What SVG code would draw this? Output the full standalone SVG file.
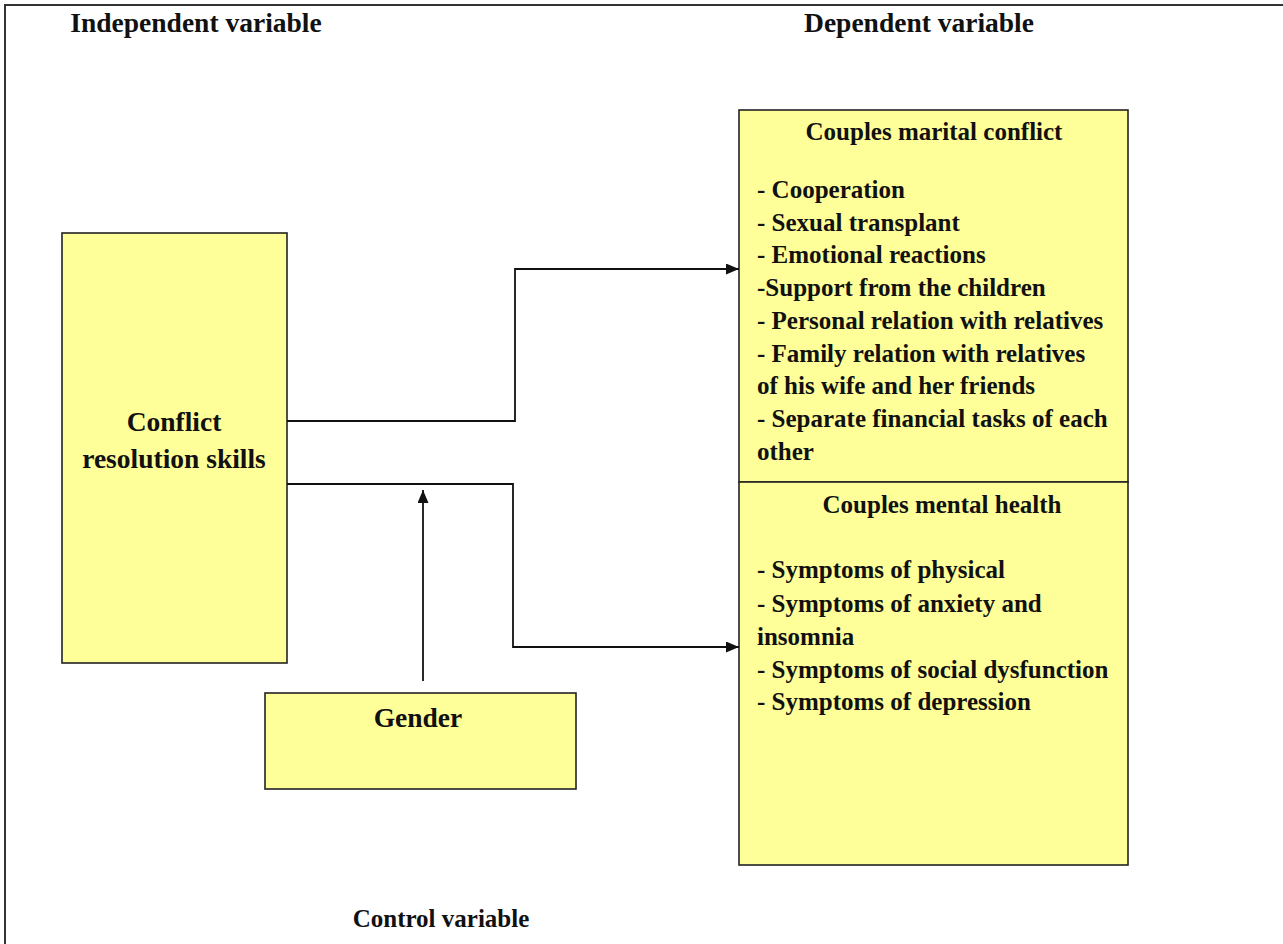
<svg xmlns="http://www.w3.org/2000/svg" width="1283" height="944" viewBox="0 0 1283 944">
<defs>
<style>
.t{font-family:"Liberation Serif","Times New Roman",serif;font-weight:bold;font-size:25px;fill:#111}
.h{font-size:27.5px}
.c{text-anchor:middle}
.box{fill:#ffff99;stroke:#222;stroke-width:1.6}
.ln{fill:none;stroke:#111;stroke-width:1.8}
</style>
<marker id="ah" viewBox="0 0 13 11" refX="13" refY="5.5" markerWidth="13" markerHeight="11" markerUnits="userSpaceOnUse" orient="auto">
<path d="M0,0 L13,5.5 L0,11 z" fill="#111"/>
</marker>
</defs>
<rect width="1283" height="944" fill="#fff"/>
<path d="M5,944 V5 H1283" fill="none" stroke="#333" stroke-width="2"/>
<text class="t h c" x="196" y="32">Independent variable</text>
<text class="t h c" x="919" y="32">Dependent variable</text>
<text class="t c" x="441" y="927">Control variable</text>
<g id="crs">
<rect class="box" x="62" y="233" width="225" height="430"/>
<text class="t h c" x="174" y="431">Conflict</text>
<text class="t h c" x="174" y="468">resolution skills</text>
</g>
<g id="conflict">
<rect class="box" x="739" y="110" width="389" height="372"/>
<text class="t c" x="934" y="140">Couples marital conflict</text>
<text class="t" x="757" y="198">- Cooperation</text>
<text class="t" x="757" y="231">- Sexual transplant</text>
<text class="t" x="757" y="263">- Emotional reactions</text>
<text class="t" x="757" y="296">-Support from the children</text>
<text class="t" x="757" y="329">- Personal relation with relatives</text>
<text class="t" x="757" y="362">- Family relation with relatives</text>
<text class="t" x="757" y="394">of his wife and her friends</text>
<text class="t" x="757" y="427">- Separate financial tasks of each</text>
<text class="t" x="757" y="460">other</text>
</g>
<g id="health">
<rect class="box" x="739" y="482" width="389" height="383"/>
<text class="t c" x="942" y="513">Couples mental health</text>
<text class="t" x="757" y="578">- Symptoms of physical</text>
<text class="t" x="757" y="612">- Symptoms of anxiety and</text>
<text class="t" x="757" y="645">insomnia</text>
<text class="t" x="757" y="678">- Symptoms of social dysfunction</text>
<text class="t" x="757" y="710">- Symptoms of depression</text>
</g>
<g id="gender">
<rect class="box" x="265" y="693" width="311" height="96"/>
<text class="t h c" x="418" y="727">Gender</text>
</g>
<g id="connectors">
<path class="ln" d="M287,421 H515 V269 H739" marker-end="url(#ah)"/>
<path class="ln" d="M287,484 H513 V647 H739" marker-end="url(#ah)"/>
<path class="ln" d="M423,681 V490" marker-end="url(#ah)"/>
</g>
</svg>
